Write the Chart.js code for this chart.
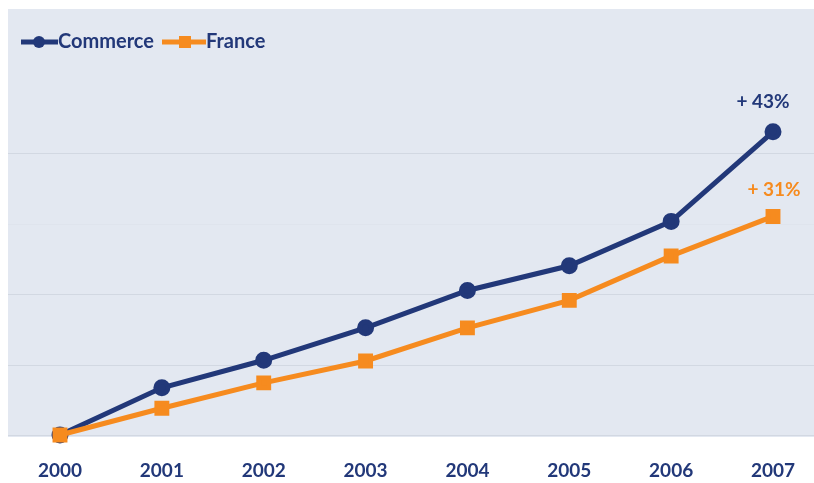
<!DOCTYPE html>
<html>
<head>
<meta charset="utf-8">
<script src="https://cdn.jsdelivr.net/npm/chart.js@4.4.1/dist/chart.umd.min.js"></script>
<style>
  html, body { margin: 0; padding: 0; background: #ffffff; }
  canvas { display: block; }
</style>
</head>
<body>
<canvas id="chart" width="814" height="483"></canvas>
<script>
// Index base 100 in 2000
const years = ['2000', '2001', '2002', '2003', '2004', '2005', '2006', '2007'];
const commerce = [100, 106.7, 110.6, 115.2, 120.5, 124.0, 130.3, 143];
const france = [100, 103.8, 107.4, 110.5, 115.2, 119.1, 125.4, 131];
const gridValues = [100, 110, 120, 130, 140];

const navy = '#223879';
const orange = '#f68b1f';
const fontFamily = 'Lato, "Open Sans", sans-serif';

// Pale panel behind the plot, with full-width guide lines
const panelPlugin = {
    id: 'panel',
    beforeDatasetsDraw(chart) {
        const ctx = chart.ctx;
        const y = chart.scales.y;
        ctx.save();
        ctx.fillStyle = '#e3e8f1';
        ctx.fillRect(8, 9, 806, 428);
        gridValues.forEach(v => {
            const py = Math.round(y.getPixelForValue(v)) + 0.5;
            ctx.strokeStyle = v === 130 ? 'rgba(214,220,230,0.3)' : '#d2d8e2';
            ctx.lineWidth = 1;
            ctx.beginPath(); ctx.moveTo(8, py); ctx.lineTo(814, py); ctx.stroke();
        });
        ctx.restore();
    }
};

// Legend in the top-left corner and the growth labels at the last point
const overlayPlugin = {
    id: 'overlay',
    afterDraw(chart) {
        const ctx = chart.ctx;
        ctx.save();
        ctx.font = 'bold 20px ' + fontFamily;
        ctx.textBaseline = 'middle';

        // Commerce legend item
        ctx.strokeStyle = navy;
        ctx.lineWidth = 5;
        ctx.beginPath(); ctx.moveTo(21, 42); ctx.lineTo(58, 42); ctx.stroke();
        ctx.fillStyle = navy;
        ctx.beginPath(); ctx.arc(39, 42, 6, 0, Math.PI * 2); ctx.fill();
        ctx.textAlign = 'left';
        ctx.fillText('Commerce', 58, 42);

        // France legend item
        ctx.strokeStyle = orange;
        ctx.beginPath(); ctx.moveTo(162, 42); ctx.lineTo(206, 42); ctx.stroke();
        ctx.fillStyle = orange;
        ctx.fillRect(179, 36, 12, 12);
        ctx.fillStyle = navy;
        ctx.fillText('France', 206, 42);

        // Growth labels computed from the series
        const series = [
            { data: commerce, color: navy, dx: -10, dy: -30 },
            { data: france, color: orange, dx: 1, dy: -27 }
        ];
        ctx.textAlign = 'center';
        ctx.font = 'bold 19px ' + fontFamily;
        series.forEach((s, i) => {
            const meta = chart.getDatasetMeta(i);
            const last = meta.data[meta.data.length - 1];
            const pct = Math.round(s.data[s.data.length - 1] - s.data[0]);
            ctx.fillStyle = s.color;
            ctx.fillText('+ ' + pct + '%', last.x + s.dx, last.y + s.dy);
        });
        ctx.restore();
    }
};

new Chart(document.getElementById('chart'), {
    type: 'line',
    data: {
        labels: years,
        datasets: [
            {
                label: 'Commerce',
                data: commerce,
                order: 1,
                borderColor: navy,
                backgroundColor: navy,
                borderWidth: 5,
                pointStyle: 'circle',
                pointRadius: 6,
                pointHoverRadius: 6,
                tension: 0,
                clip: false
            },
            {
                label: 'France',
                data: france,
                order: 0,
                borderColor: orange,
                backgroundColor: orange,
                borderWidth: 5,
                pointStyle: 'rect',
                pointRadius: 7,
                pointHoverRadius: 7,
                tension: 0,
                clip: false
            }
        ]
    },
    options: {
        responsive: false,
        animation: false,
        devicePixelRatio: 1,
        layout: { padding: { left: 60, right: 41, top: 8, bottom: 0 } },
        plugins: {
            legend: { display: false },
            tooltip: { enabled: false }
        },
        scales: {
            x: {
                offset: false,
                grid: { display: false, drawTicks: false },
                border: { display: false },
                ticks: {
                    padding: 24,
                    maxRotation: 0,
                    color: navy,
                    font: { family: fontFamily, size: 19, weight: 'bold' }
                },
                afterFit(scale) {
                    scale.height = 48;
                    scale.paddingLeft = 0;
                    scale.paddingRight = 0;
                }
            },
            y: {
                min: 100,
                max: 160,
                ticks: { display: false, stepSize: 10 },
                border: { display: false },
                grid: { display: false, drawTicks: false },
                afterFit(scale) { scale.width = 0; }
            }
        }
    },
    plugins: [panelPlugin, overlayPlugin]
});
</script>
</body>
</html>
